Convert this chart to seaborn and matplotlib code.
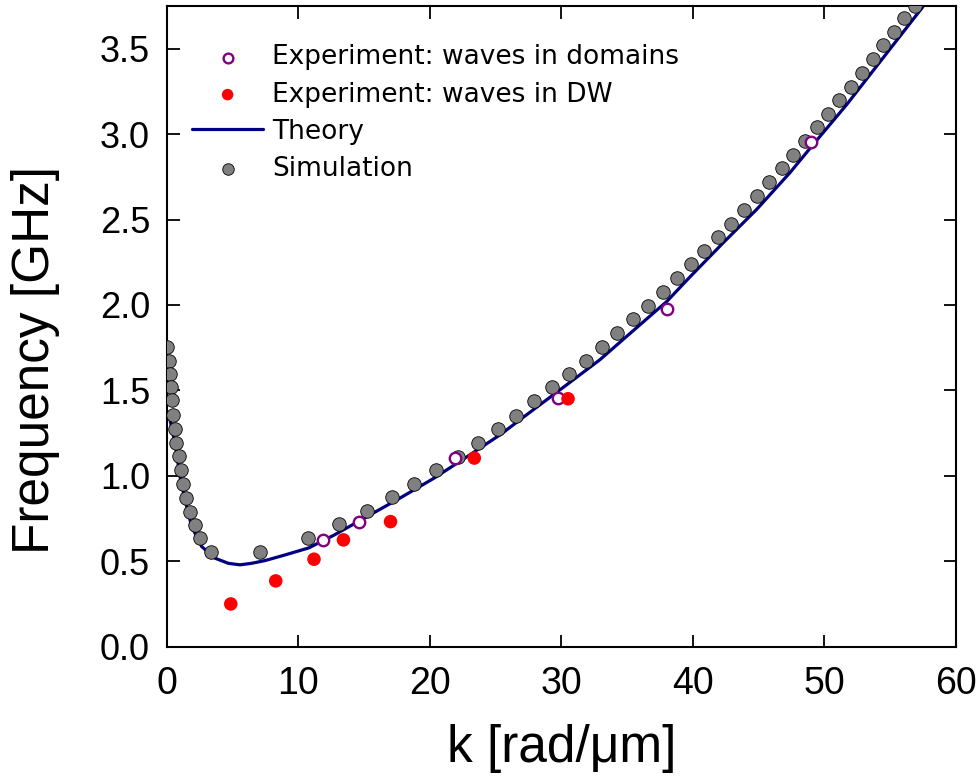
import seaborn as sns
import matplotlib.pyplot as plt

# simulation (grey dots)
sim_k = [0.05, 0.20, 0.25, 0.30, 0.38, 0.50, 0.61, 0.71, 0.94, 1.09, 1.26, 1.47, 1.77, 2.13, 2.56, 3.35,
         7.10, 10.77, 13.13, 15.21, 17.11, 18.83, 20.48, 22.17, 23.70, 25.17, 26.56, 27.95, 29.29, 30.59,
         31.89, 33.08, 34.27, 35.48, 36.62, 37.72, 38.78, 39.85, 40.88, 41.90, 42.89, 43.90, 44.87, 45.80,
         46.77, 47.60, 48.54, 49.43, 50.31, 51.15, 52.04, 52.87, 53.69, 54.49, 55.33, 56.09, 56.92]
sim_f = [1.757, 1.675, 1.598, 1.520, 1.441, 1.356, 1.275, 1.195, 1.117, 1.035, 0.953, 0.873, 0.791, 0.713, 0.635, 0.557,
         0.557, 0.635, 0.717, 0.795, 0.875, 0.953, 1.035, 1.113, 1.195, 1.275, 1.353, 1.439, 1.520, 1.596,
         1.675, 1.757, 1.836, 1.918, 1.996, 2.076, 2.158, 2.240, 2.314, 2.396, 2.476, 2.558, 2.636, 2.718,
         2.799, 2.878, 2.958, 3.040, 3.119, 3.199, 3.277, 3.359, 3.437, 3.519, 3.599, 3.677, 3.749]

# experiment: waves in domain walls (red)
dw_k = [4.87, 8.29, 11.20, 13.44, 17.02, 23.39, 30.52]
dw_f = [0.250, 0.385, 0.512, 0.625, 0.732, 1.104, 1.451]

# experiment: waves in domains (open purple)
dom_k = [11.91, 14.62, 21.92, 29.79, 38.02, 49.0]
dom_f = [0.625, 0.732, 1.104, 1.453, 1.977, 2.953]

# theory curve
theory_k = [0.17, 0.25, 0.63, 1.01, 1.39, 1.90, 2.66, 3.67, 4.68, 5.57, 6.46, 7.48, 9.0, 10.8, 12.7,
            15.2, 17.7, 20.3, 22.8, 25.35, 27.88, 30.42, 32.95, 35.48, 38.02, 39.8, 42.33, 44.87, 47.4,
            49.05, 51.71, 57.5]
theory_f = [1.367, 1.328, 1.192, 0.996, 0.859, 0.703, 0.586, 0.518, 0.488, 0.479, 0.488, 0.504, 0.537,
            0.578, 0.652, 0.76, 0.868, 0.985, 1.11, 1.24, 1.387, 1.533, 1.68, 1.85, 2.02, 2.165, 2.365,
            2.56, 2.775, 2.929, 3.173, 3.745]

sns.set_style("ticks")
plt.rcParams["font.family"] = ["Liberation Sans", "DejaVu Sans"]
plt.rcParams["text.color"] = "black"
plt.rcParams["axes.labelcolor"] = "black"
plt.rcParams["xtick.color"] = "black"
plt.rcParams["ytick.color"] = "black"

fig = plt.figure(figsize=(9.79, 7.81), dpi=100)
ax = fig.add_axes([0.1703, 0.172, 0.8059, 0.8203])

sns.lineplot(x=theory_k, y=theory_f, color="#000080", lw=2.3, ax=ax, label="Theory", sort=False, zorder=2)
sns.scatterplot(x=sim_k, y=sim_f, color="#808080", edgecolor="black", linewidth=0.6, s=95,
                ax=ax, label="Simulation", zorder=3)
sns.scatterplot(x=dom_k, y=dom_f, color="white", edgecolor="#800080", linewidth=1.7, s=68,
                ax=ax, label="Experiment: waves in domains", zorder=4)
sns.scatterplot(x=dw_k, y=dw_f, color="#ff0000", edgecolor="none", linewidth=0, s=95,
                ax=ax, label="Experiment: waves in DW", zorder=5)

ax.set_xlim(0, 60)
ax.set_ylim(0, 3.75)
ax.set_xticks(range(0, 61, 10))
ax.set_yticks([0, 0.5, 1.0, 1.5, 2.0, 2.5, 3.0, 3.5])
ax.set_yticklabels([f"{v:.1f}" for v in [0, 0.5, 1.0, 1.5, 2.0, 2.5, 3.0, 3.5]])
ax.tick_params(direction="in", length=9, width=1.3, top=True, right=True, color="black")
ax.tick_params(axis="y", labelsize=26, pad=12)
ax.tick_params(axis="x", labelsize=27, pad=14)
for sp in ax.spines.values():
    sp.set_linewidth(1.5)
    sp.set_color("black")

ax.set_xlabel("k [rad/μm]", fontsize=37, labelpad=16)
ax.set_ylabel("Frequency [GHz]", fontsize=37)
ax.yaxis.set_label_coords(-0.135, 0.447)

handles, labels = ax.get_legend_handles_labels()
order = ["Experiment: waves in domains", "Experiment: waves in DW", "Theory", "Simulation"]
hmap = dict(zip(labels, handles))
ax.legend([hmap[o] for o in order], order, loc="upper left", bbox_to_anchor=(0.032, 0.940),
          frameon=False, prop={"family": "DejaVu Sans", "size": 19}, markerscale=0.85,
          handlelength=2.7, handletextpad=0.34, labelspacing=0.42, borderpad=0, borderaxespad=0)

fig.savefig("out.png", dpi=100)
